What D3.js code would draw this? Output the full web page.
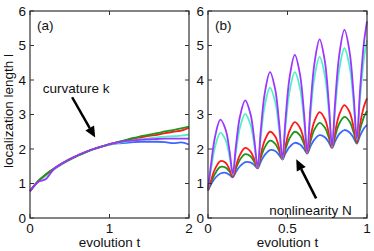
<!DOCTYPE html>
<html>
<head>
<meta charset="utf-8">
<script src="https://cdn.jsdelivr.net/npm/d3@7"></script>
<style>
body { margin: 0; background: #fff; }
text { font-family: "Liberation Sans", Arial, sans-serif; fill: #111; }
</style>
</head>
<body>
<svg id="svg_canvas" width="374" height="251"></svg>
<script>
// ---- data ----
var colorNames = ["blue", "green", "red", "cyan", "purple"];
var colors = {
	blue: "#3a68ff",
	green: "#1c961c",
	red: "#ff1a1a",
	cyan: "#4ff0c4",
	purple: "#9b35ff"
};

// panel (a): curvature k
var tA = [0, 0.1, 0.2, 0.3, 0.4, 0.5, 0.6, 0.7, 0.8, 0.9, 1.0,
	1.1, 1.2, 1.3, 1.4, 1.5, 1.6, 1.7, 1.8, 1.9, 2.0];
var aBlue   = [0.78, 1.05, 1.25, 1.42, 1.57, 1.70, 1.81, 1.91, 2.00, 2.07, 2.13,
	2.16, 2.18, 2.20, 2.21, 2.21, 2.21, 2.20, 2.17, 2.19, 2.13];
var aGreen  = [0.78, 1.07, 1.27, 1.43, 1.58, 1.70, 1.81, 1.91, 2.00, 2.07, 2.14,
	2.20, 2.26, 2.32, 2.37, 2.42, 2.46, 2.51, 2.55, 2.60, 2.65];
var aRed    = [0.78, 1.06, 1.26, 1.43, 1.57, 1.70, 1.81, 1.91, 2.00, 2.07, 2.14,
	2.19, 2.25, 2.30, 2.34, 2.38, 2.41, 2.46, 2.50, 2.53, 2.62];
var aCyan   = [0.78, 1.05, 1.22, 1.40, 1.55, 1.68, 1.80, 1.90, 1.99, 2.07, 2.13,
	2.17, 2.21, 2.25, 2.28, 2.31, 2.34, 2.36, 2.37, 2.39, 2.42];
var aPurple = [0.78, 1.04, 1.13, 1.42, 1.58, 1.71, 1.82, 1.92, 2.00, 2.07, 2.14,
	2.19, 2.23, 2.25, 2.27, 2.28, 2.29, 2.30, 2.30, 2.30, 2.30];

// panel (b): nonlinearity N
var tB = [0, 0.02, 0.045, 0.078, 0.111, 0.136,
	0.156, 0.176, 0.201, 0.234, 0.267, 0.292,
	0.312, 0.332, 0.357, 0.39, 0.423, 0.448,
	0.468, 0.488, 0.513, 0.546, 0.579, 0.604,
	0.624, 0.644, 0.669, 0.702, 0.735, 0.76,
	0.78, 0.8, 0.825, 0.858, 0.891, 0.916,
	0.936, 0.956, 0.981, 1.0];
var bBlue = [0.80, 0.98, 1.16, 1.29, 1.31, 1.25,
	1.18, 1.34, 1.50, 1.62, 1.61, 1.53,
	1.44, 1.63, 1.83, 1.97, 1.94, 1.82,
	1.70, 1.88, 2.06, 2.18, 2.13, 2.00,
	1.87, 2.07, 2.27, 2.40, 2.34, 2.19,
	2.03, 2.23, 2.43, 2.55, 2.48, 2.32,
	2.16, 2.38, 2.60, 2.70];
var bGreen = [0.80, 1.04, 1.29, 1.48, 1.46, 1.34,
	1.20, 1.44, 1.69, 1.85, 1.79, 1.62,
	1.45, 1.74, 2.05, 2.24, 2.15, 1.93,
	1.70, 2.00, 2.31, 2.50, 2.39, 2.14,
	1.88, 2.21, 2.56, 2.76, 2.62, 2.33,
	2.04, 2.38, 2.73, 2.93, 2.79, 2.48,
	2.18, 2.56, 2.93, 3.10];
var bRed = [0.80, 1.11, 1.43, 1.65, 1.60, 1.40,
	1.20, 1.51, 1.83, 2.03, 1.93, 1.69,
	1.45, 1.85, 2.25, 2.50, 2.36, 2.03,
	1.70, 2.11, 2.53, 2.78, 2.61, 2.25,
	1.88, 2.34, 2.80, 3.07, 2.87, 2.46,
	2.04, 2.51, 2.99, 3.27, 3.06, 2.63,
	2.20, 2.72, 3.24, 3.47];
var bCyan = [0.82, 1.44, 2.07, 2.47, 2.26, 1.76,
	1.25, 1.93, 2.62, 3.02, 2.71, 2.09,
	1.46, 2.35, 3.26, 3.78, 3.36, 2.53,
	1.70, 2.68, 3.67, 4.23, 3.75, 2.83,
	1.90, 2.97, 4.06, 4.67, 4.13, 3.09,
	2.06, 3.17, 4.29, 4.92, 4.38, 3.32,
	2.27, 3.45, 4.63, 5.15];
var bPurple = [0.82, 1.59, 2.37, 2.85, 2.56, 1.93,
	1.28, 2.10, 2.94, 3.41, 3.02, 2.24,
	1.47, 2.54, 3.62, 4.23, 3.72, 2.72,
	1.72, 2.89, 4.07, 4.73, 4.15, 3.04,
	1.92, 3.19, 4.47, 5.18, 4.54, 3.31,
	2.08, 3.39, 4.71, 5.45, 4.80, 3.55,
	2.30, 3.69, 5.09, 5.70];

var yTicks = [0, 1, 2, 3, 4, 5, 6];
var xTicksA = [0, 1, 2];
var xTicksB = [0, 0.5, 1];
var xTickLabelsB = ["0", "0.5", "1"];

// annotations, in data units of each panel
var arrowA = { x1: 0.53, y1: 3.5, x2: 0.82, y2: 2.33 };
var arrowB = { x1: 0.68, y1: 0.57, x2: 0.555, y2: 1.7 };

function drawPanel(svg, opt) {
	var x = d3.scaleLinear().domain(opt.xDomain).range([opt.left, opt.right]);
	var y = d3.scaleLinear().domain([0, 6]).range([opt.bottom, opt.top]);
	var g = svg.append("g");

	var line = d3.line()
		.x(function(d) { return x(d[0]); })
		.y(function(d) { return y(d[1]); })
		.curve(opt.curve);

	opt.series.forEach(function(s) {
		var pts = opt.t.map(function(t, i) { return [t, s.values[i]]; });
		g.append("path")
			.attr("d", line(pts))
			.attr("fill", "none")
			.attr("stroke", colors[s.name])
			.attr("stroke-width", 1.8)
			.attr("stroke-linejoin", "round");
	});

	// inward ticks, MATLAB style, on all four sides
	var tl = 4;
	var axisColor = "#333";
	yTicks.forEach(function(v) {
		g.append("line").attr("x1", opt.left).attr("x2", opt.left + tl)
			.attr("y1", y(v)).attr("y2", y(v)).attr("stroke", axisColor);
		g.append("line").attr("x1", opt.right).attr("x2", opt.right - tl)
			.attr("y1", y(v)).attr("y2", y(v)).attr("stroke", axisColor);
		g.append("text").attr("x", opt.left - 4).attr("y", y(v))
			.attr("dy", "0.36em").attr("text-anchor", "end")
			.style("font-size", "13.5px").text(v);
	});
	opt.xTicks.forEach(function(v, i) {
		g.append("line").attr("x1", x(v)).attr("x2", x(v))
			.attr("y1", opt.bottom).attr("y2", opt.bottom - tl).attr("stroke", axisColor);
		g.append("line").attr("x1", x(v)).attr("x2", x(v))
			.attr("y1", opt.top).attr("y2", opt.top + tl).attr("stroke", axisColor);
		g.append("text").attr("x", x(v)).attr("y", opt.bottom + 15)
			.attr("text-anchor", "middle")
			.style("font-size", "13.5px").text(opt.xTickLabels[i]);
	});

	g.append("rect")
		.attr("x", opt.left).attr("y", opt.top)
		.attr("width", opt.right - opt.left).attr("height", opt.bottom - opt.top)
		.attr("fill", "none").attr("stroke", axisColor).attr("stroke-width", 1.2);

	g.append("text").attr("x", (opt.left + opt.right) / 2).attr("y", 247)
		.attr("text-anchor", "middle").style("font-size", "13.5px").text("evolution t");

	g.append("text").attr("x", opt.left + 7).attr("y", opt.top + 19)
		.style("font-size", "13.5px").text(opt.tag);

	// annotation arrow
	var a = opt.arrow;
	var x1 = x(a.x1), y1 = y(a.y1), x2 = x(a.x2), y2 = y(a.y2);
	var ang = Math.atan2(y2 - y1, x2 - x1);
	var hl = 11, hw = 5;
	var bx = x2 - hl * Math.cos(ang), by = y2 - hl * Math.sin(ang);
	g.append("line").attr("x1", x1).attr("y1", y1).attr("x2", bx).attr("y2", by)
		.attr("stroke", "#000").attr("stroke-width", 2.5);
	g.append("path")
		.attr("d", "M" + x2 + "," + y2 +
			"L" + (bx + hw * Math.sin(ang)) + "," + (by - hw * Math.cos(ang)) +
			"L" + (bx - hw * Math.sin(ang)) + "," + (by + hw * Math.cos(ang)) + "Z")
		.attr("fill", "#000");

	g.append("text").attr("x", x(opt.note.x)).attr("y", y(opt.note.y))
		.attr("text-anchor", opt.note.anchor)
		.style("font-size", "13.5px").text(opt.note.text);
}

function init() {
	var svg = d3.select("#svg_canvas");

	drawPanel(svg, {
		left: 30, right: 189, top: 11, bottom: 218,
		xDomain: [0, 2], xTicks: xTicksA, xTickLabels: ["0", "1", "2"],
		t: tA, curve: d3.curveMonotoneX,
		series: [
			{ name: "blue", values: aBlue },
			{ name: "cyan", values: aCyan },
			{ name: "red", values: aRed },
			{ name: "green", values: aGreen },
			{ name: "purple", values: aPurple }
		],
		tag: "(a)", arrow: arrowA,
		note: { x: 0.16, y: 3.62, anchor: "start", text: "curvature k" }
	});

	drawPanel(svg, {
		left: 208, right: 367, top: 11, bottom: 218,
		xDomain: [0, 1], xTicks: xTicksB, xTickLabels: xTickLabelsB,
		t: tB, curve: d3.curveCatmullRom.alpha(0.5),
		series: [
			{ name: "blue", values: bBlue },
			{ name: "green", values: bGreen },
			{ name: "red", values: bRed },
			{ name: "cyan", values: bCyan },
			{ name: "purple", values: bPurple }
		],
		tag: "(b)", arrow: arrowB,
		note: { x: 0.645, y: 0.1, anchor: "middle", text: "nonlinearity N" }
	});

	svg.append("text")
		.attr("transform", "translate(13,111) rotate(-90)")
		.attr("text-anchor", "middle")
		.style("font-size", "13.5px")
		.text("localization length l");
}

init();
</script>
</body>
</html>
